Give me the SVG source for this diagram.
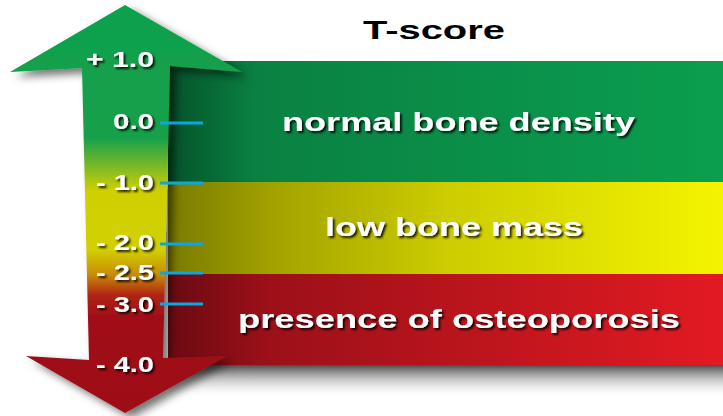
<svg xmlns="http://www.w3.org/2000/svg" width="723" height="416" viewBox="0 0 723 416">
<defs>
<linearGradient id="gGreen" x1="168" y1="0" x2="723" y2="0" gradientUnits="userSpaceOnUse">
<stop offset="0" stop-color="#04522a"/><stop offset="0.16" stop-color="#0a8142"/><stop offset="1" stop-color="#0a9f4f"/>
</linearGradient>
<linearGradient id="gYellow" x1="168" y1="0" x2="723" y2="0" gradientUnits="userSpaceOnUse">
<stop offset="0" stop-color="#7a7a00"/><stop offset="0.2" stop-color="#a4a400"/><stop offset="0.5" stop-color="#cccc00"/><stop offset="1" stop-color="#f4f400"/>
</linearGradient>
<linearGradient id="gRed" x1="168" y1="0" x2="723" y2="0" gradientUnits="userSpaceOnUse">
<stop offset="0" stop-color="#6a0a12"/><stop offset="0.18" stop-color="#9c1018"/><stop offset="1" stop-color="#e21a22"/>
</linearGradient>
<linearGradient id="gShade" x1="0" y1="365" x2="0" y2="398" gradientUnits="userSpaceOnUse">
<stop offset="0" stop-color="#4a4a4a"/><stop offset="1" stop-color="#ffffff" stop-opacity="0"/>
</linearGradient>
<linearGradient id="gArrow" x1="0" y1="0" x2="0" y2="416" gradientUnits="userSpaceOnUse">
<stop offset="0" stop-color="#10a04e"/><stop offset="0.33" stop-color="#14a04a"/><stop offset="0.4" stop-color="#7cb828"/><stop offset="0.46" stop-color="#d0d000"/><stop offset="0.6" stop-color="#d2d000"/><stop offset="0.66" stop-color="#c88c08"/><stop offset="0.71" stop-color="#b02414"/><stop offset="0.76" stop-color="#a01018"/><stop offset="1" stop-color="#9e1016"/>
</linearGradient>
<filter id="arrowShadow" x="-20%" y="-10%" width="150%" height="130%">
<feDropShadow dx="6" dy="5" stdDeviation="4" flood-color="#000" flood-opacity="0.55"/>
</filter>
<filter id="txtShadow" x="-10%" y="-30%" width="130%" height="170%">
<feDropShadow dx="2" dy="2" stdDeviation="1" flood-color="#000" flood-opacity="0.85"/>
</filter>
</defs>
<style>
.lbl{font-family:"Liberation Sans",Arial,sans-serif;font-weight:bold;fill:#ffffff;filter:url(#txtShadow)}
.band{font-size:26px;text-anchor:start}
.num{font-size:22px;text-anchor:end}
.tick{stroke:#0aa8e0;stroke-width:3;fill:none}
.title{font-family:"Liberation Sans",Arial,sans-serif;font-weight:bold;font-size:25px;fill:#000}
</style>
<rect width="723" height="416" fill="#ffffff"/>
<g id="title"><text class="title" x="434" y="39" text-anchor="middle" textLength="142" lengthAdjust="spacingAndGlyphs">T-score</text></g>
<g id="band-shadow"><rect x="170" y="365" width="553" height="33" fill="url(#gShade)"/></g>
<g id="band-normal"><rect x="168" y="61" width="555" height="121" fill="url(#gGreen)"/>
<text class="lbl band" x="282" y="131" textLength="353" lengthAdjust="spacingAndGlyphs">normal bone density</text></g>
<g id="band-low"><rect x="168" y="182" width="555" height="92" fill="url(#gYellow)"/>
<text class="lbl band" x="325" y="236" textLength="258" lengthAdjust="spacingAndGlyphs">low bone mass</text></g>
<g id="band-osteo"><rect x="168" y="274" width="555" height="91" fill="url(#gRed)"/>
<text class="lbl band" x="238" y="328" textLength="442" lengthAdjust="spacingAndGlyphs">presence of osteoporosis</text></g>
<g id="arrow">
<path d="M125 5 L242 72 L170 66 L163 358 L227 356 L125 413 L26 356 L89 360 L82 68 L10 72 Z" fill="url(#gArrow)" filter="url(#arrowShadow)"/>
</g>
<g id="connectors">
<line class="tick" x1="160" y1="123" x2="203" y2="123"/>
<line class="tick" x1="160" y1="183" x2="203" y2="183"/>
<line class="tick" x1="160" y1="244" x2="203" y2="244"/>
<line class="tick" x1="160" y1="273" x2="203" y2="273"/>
<line class="tick" x1="160" y1="304" x2="203" y2="304"/>
</g>
<g id="scale-labels">
<text class="lbl num" x="154" y="67" textLength="68" lengthAdjust="spacingAndGlyphs">+ 1.0</text>
<text class="lbl num" x="154" y="129" textLength="41" lengthAdjust="spacingAndGlyphs">0.0</text>
<text class="lbl num" x="154" y="190" textLength="58" lengthAdjust="spacingAndGlyphs">- 1.0</text>
<text class="lbl num" x="154" y="250" textLength="58" lengthAdjust="spacingAndGlyphs">- 2.0</text>
<text class="lbl num" x="154" y="280" textLength="58" lengthAdjust="spacingAndGlyphs">- 2.5</text>
<text class="lbl num" x="154" y="312" textLength="58" lengthAdjust="spacingAndGlyphs">- 3.0</text>
<text class="lbl num" x="154" y="372" textLength="58" lengthAdjust="spacingAndGlyphs">- 4.0</text>
</g>
</svg>
